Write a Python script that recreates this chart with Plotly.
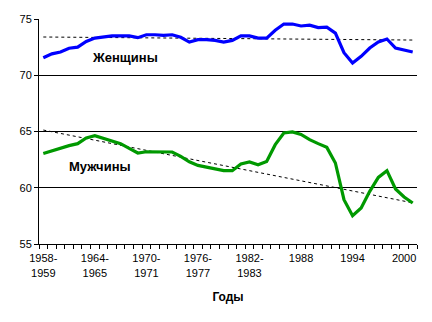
import plotly.graph_objects as go

years = list(range(1958, 2002))
tick_years = [1958, 1964, 1970, 1976, 1982, 1988, 1994, 2000]
tick_labels = ["1958-<br>1959", "1964-<br>1965", "1970-<br>1971", "1976-<br>1977",
               "1982-<br>1983", "1988", "1994", "2000"]

women = [71.55, 71.9, 72.07, 72.4, 72.5, 73.0, 73.3, 73.43, 73.5, 73.5,
         73.5, 73.34, 73.6, 73.6, 73.55, 73.6, 73.37, 72.95, 73.16, 73.16,
         73.1, 72.95, 73.1, 73.5, 73.5, 73.3, 73.3, 74.0, 74.55, 74.55,
         74.38, 74.45, 74.23, 74.27, 73.75, 72.0, 71.08, 71.68, 72.42, 72.95,
         73.22, 72.42, 72.24, 72.07]
men = [63.05, 63.29, 63.5, 63.74, 63.92, 64.42, 64.63, 64.39, 64.2, 63.92,
       63.5, 63.09, 63.2, 63.2, 63.18, 63.18, 62.79, 62.31, 61.99, 61.81,
       61.7, 61.52, 61.52, 62.11, 62.29, 62.05, 62.34, 63.83, 64.87, 64.96,
       64.74, 64.27, 63.92, 63.59, 62.2, 58.94, 57.52, 58.2, 59.68, 60.92,
       61.52, 59.89, 59.18, 58.64]

# linear trend lines (end points)
trend_years = [1958, 2001]
women_trend = [73.4, 73.13]
men_trend = [65.13, 58.66]

FONT = "Liberation Sans, Arial, sans-serif"

fig = go.Figure()
fig.add_trace(go.Scatter(x=trend_years, y=women_trend, mode="lines",
                         line=dict(color="black", width=1, dash="3px,3px"), hoverinfo="skip"))
fig.add_trace(go.Scatter(x=trend_years, y=men_trend, mode="lines",
                         line=dict(color="black", width=1, dash="3px,3px"), hoverinfo="skip"))
fig.add_trace(go.Scatter(x=years, y=women, mode="lines",
                         line=dict(color="#0000FF", width=3.2)))
fig.add_trace(go.Scatter(x=years, y=men, mode="lines",
                         line=dict(color="#009900", width=3.2)))

fig.add_annotation(x=1967.5, y=71.6, text="<b>Женщины</b>", showarrow=False,
                   font=dict(family=FONT, size=13, color="black"))
fig.add_annotation(x=1964.6, y=61.85, text="<b>Мужчины</b>", showarrow=False,
                   font=dict(family=FONT, size=13, color="black"))

fig.update_layout(
    width=432, height=322,
    margin=dict(l=39, r=15, t=19, b=78),
    paper_bgcolor="white", plot_bgcolor="white",
    showlegend=False,
    font=dict(family=FONT, size=11, color="black"),
    xaxis=dict(
        range=[1957.5, 2001.5],
        tickmode="array", tickvals=tick_years, ticktext=tick_labels,
        ticks="", showgrid=False, zeroline=False,
        showline=True, linecolor="black", linewidth=1,
        ticklabelstandoff=4,
        minor=dict(tickmode="array", tickvals=[y - 0.5 for y in years] + [2001.5],
                   ticks="outside", ticklen=4, tickcolor="black", showgrid=False),
        title=dict(text="<b>Годы</b>", font=dict(family=FONT, size=12), standoff=15),
        tickfont=dict(family=FONT, size=11),
    ),
    yaxis=dict(
        range=[55, 75],
        tickmode="array", tickvals=[55, 60, 65, 70, 75],
        ticks="outside", ticklen=4, tickcolor="black",
        showgrid=False, zeroline=False,
        showline=True, linecolor="black", linewidth=1,
        minor=dict(tickmode="array", tickvals=[60, 65, 70], ticks="",
                   showgrid=True, gridcolor="black", gridwidth=1),
        tickfont=dict(family=FONT, size=11),
    ),
)

fig.write_html("out.html")
